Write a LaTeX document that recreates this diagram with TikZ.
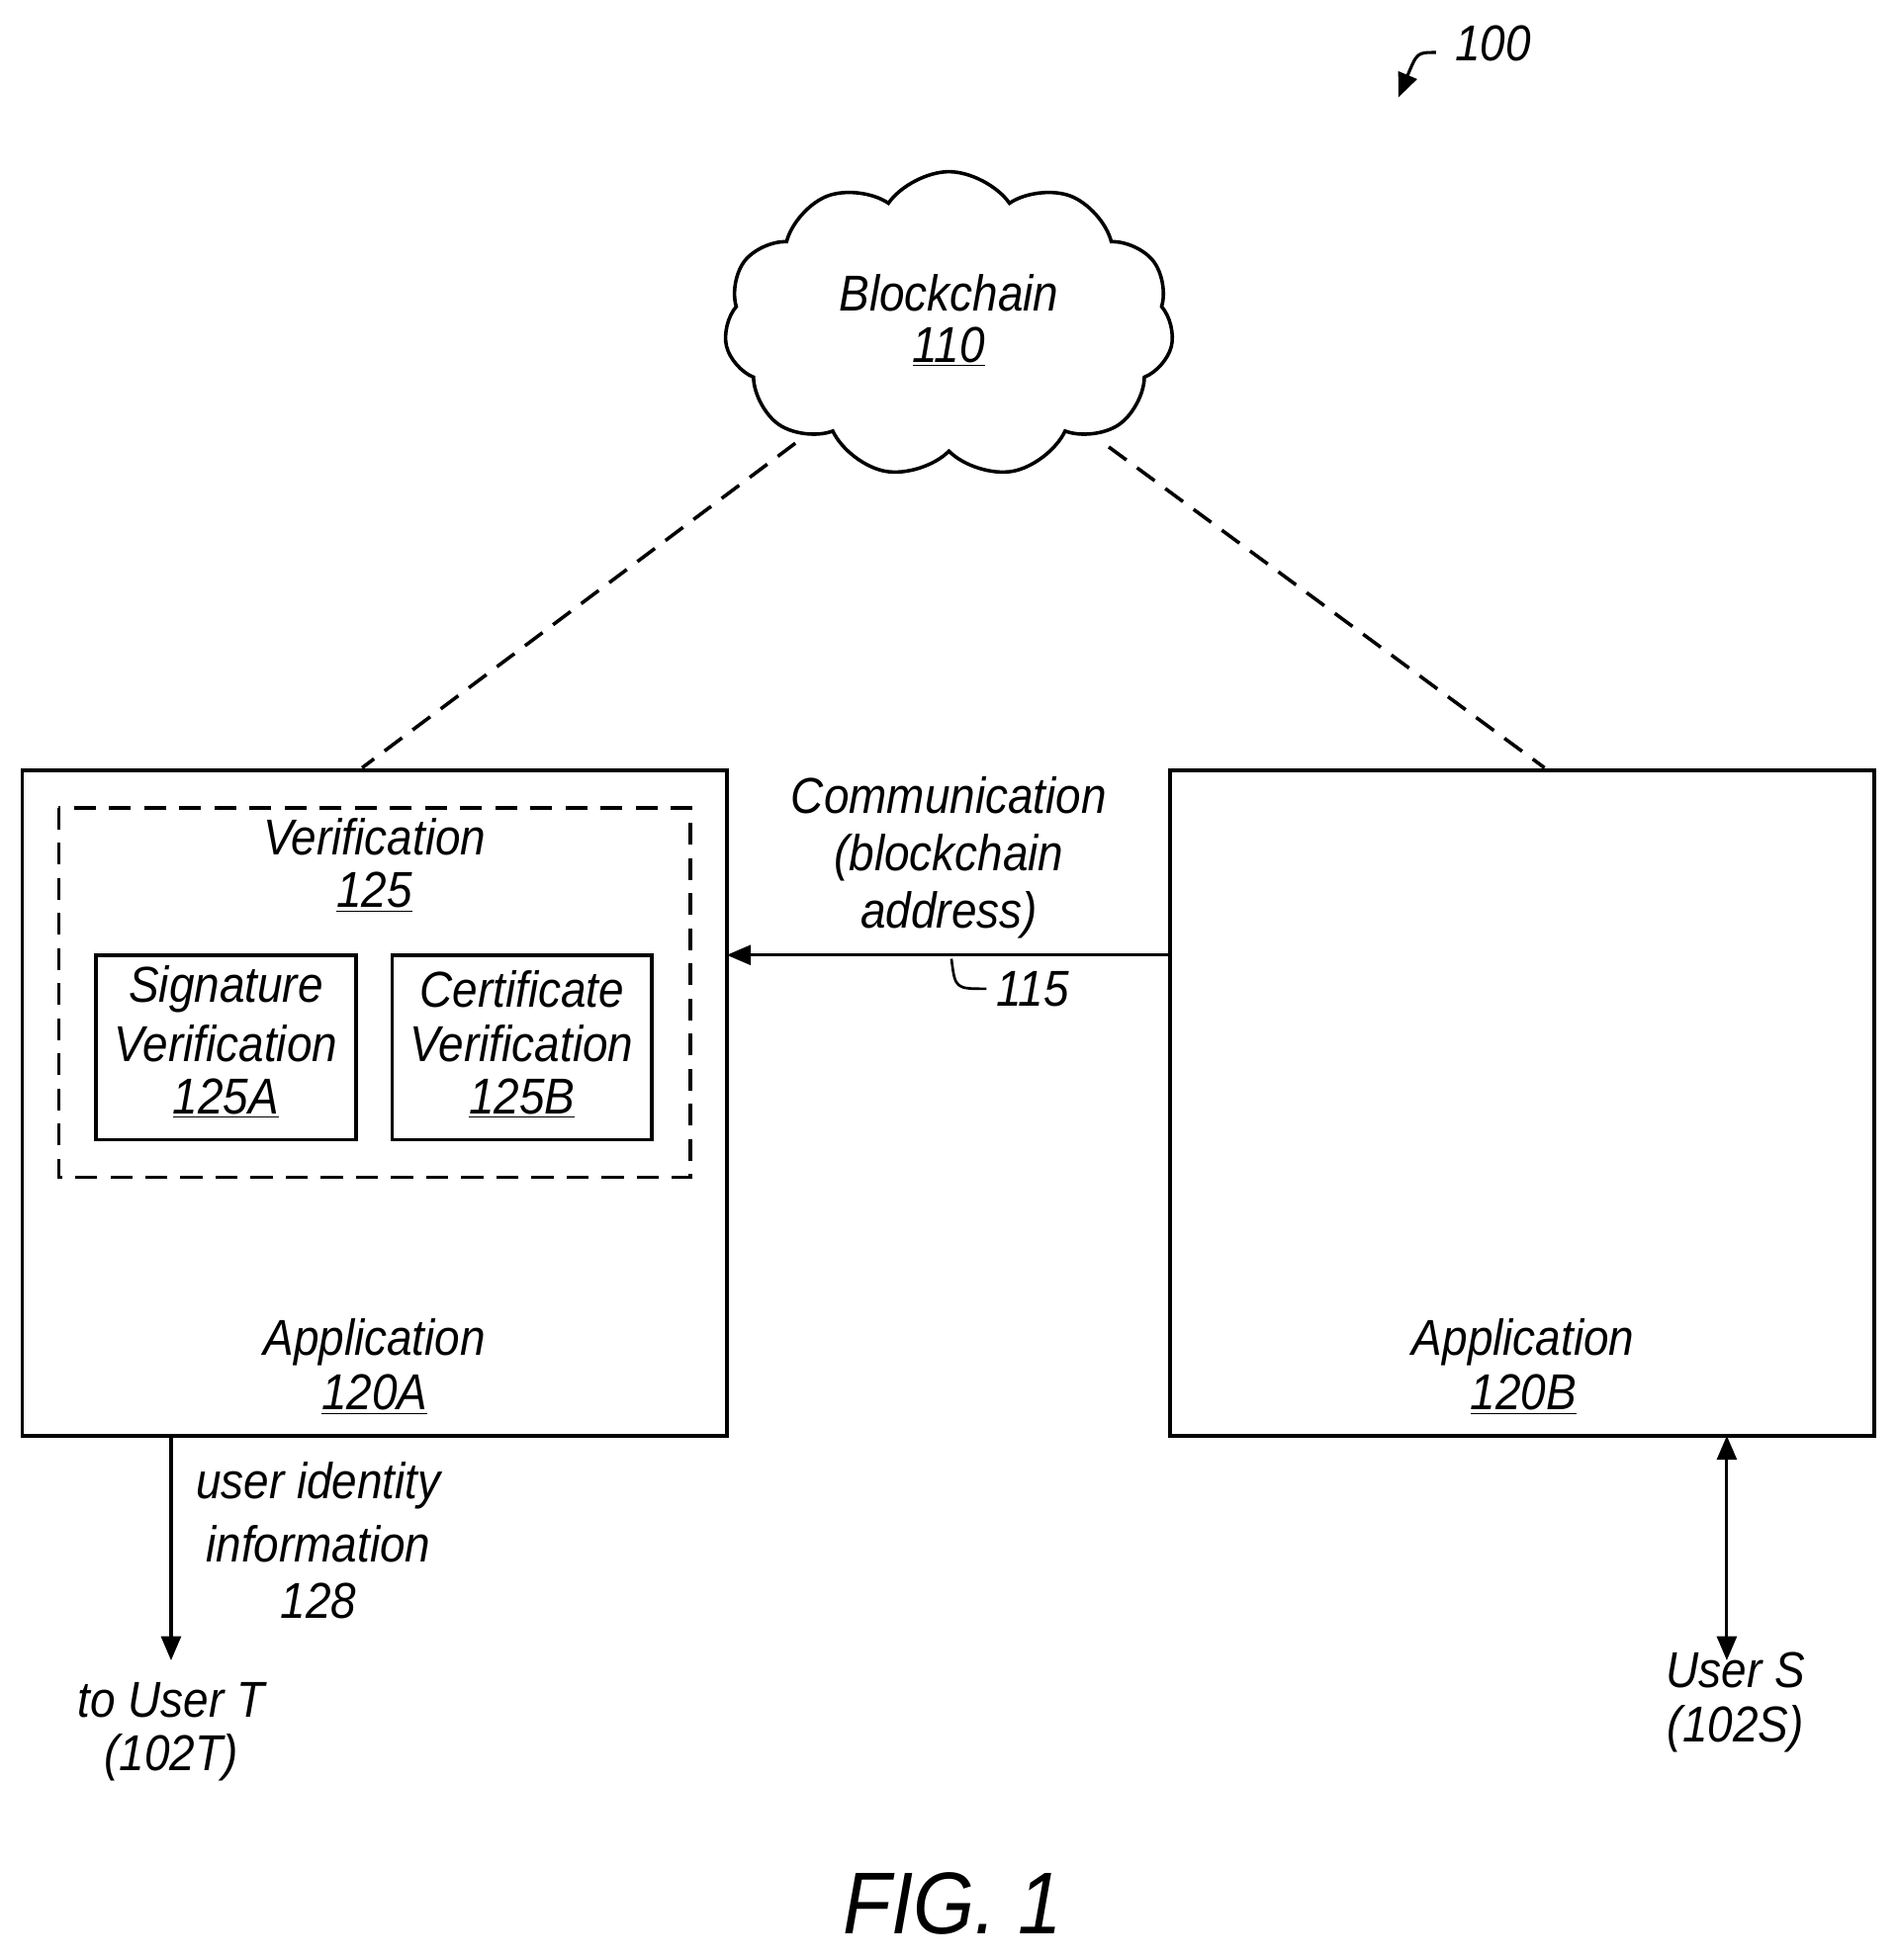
\documentclass[tikz,border=0pt]{standalone}
\usepackage{fontspec}
\setmainfont[FakeStretch=0.9]{Liberation Sans}
\usetikzlibrary{shapes.symbols,arrows.meta}
\begin{document}
\begin{tikzpicture}[x=0.02cm,y=-0.02cm,
  lbl/.style={font=\fontsize{23}{27}\selectfont\itshape,align=center,inner sep=0pt},
  box/.style={draw,line width=1.6pt},
  dsh/.style={line width=1.6pt,dash pattern=on 10pt off 6pt},
  arr/.style={line width=1.4pt,-{Triangle[length=11pt,width=9pt]}}]
\useasboundingbox (0,0) rectangle (1520,1570);
\node[lbl,anchor=west] (n100) at (1165,35) {100};
\coordinate (h1) at (1150,42);
\draw[arr] (h1) .. controls (1135,42) .. (1120,78);
\node[draw,cloud,line width=1.6pt,cloud puffs=11,cloud puff arc=110,minimum width=7.2cm,minimum height=4.9cm] (bc) at (760,260) {};
\node[lbl] at (760,235) {Blockchain};
\node[lbl] at (760,278) {\underline{110}};
\draw[box] (18,617) rectangle (582,1150);
\draw[box] (937,617) rectangle (1501,1150);
\coordinate (A) at (582,765);
\coordinate (B) at (937,765);
\draw[dsh] (637,355) -- (290,615);
\draw[dsh] (888,358) -- (1237,615);
\draw[dsh] (47,647) rectangle (553,943);
\node[lbl] at (300,670) {Verification};
\node[lbl] at (300,715) {\underline{125}};
\draw[box] (77,765) rectangle (285,913);
\draw[box] (314,765) rectangle (522,913);
\node[lbl] at (181,792) {Signature};
\node[lbl] at (181,836) {Verification};
\node[lbl] at (181,880) {\underline{125A}};
\node[lbl] at (418,792) {Certificate};
\node[lbl] at (418,836) {Verification};
\node[lbl] at (418,880) {\underline{125B}};
\draw[arr] (B) -- (A);
\node[lbl] at (760,637) {Communication};
\node[lbl] at (760,687) {(blockchain};
\node[lbl] at (760,733) {address)};
\draw[line width=1.2pt] (762,768) .. controls (765,792) .. (790,792);
\node[lbl,anchor=west] at (798,792) {115};
\node[lbl] at (300,1075) {Application};
\node[lbl] at (300,1117) {\underline{120A}};
\node[lbl] at (1220,1075) {Application};
\node[lbl] at (1220,1117) {\underline{120B}};
\draw[arr] (137,1150) -- (137,1330);
\node[lbl] at (255,1190) {user identity};
\node[lbl] at (255,1237) {information};
\node[lbl] at (255,1282) {128};
\node[lbl] at (137,1362) {to User T};
\node[lbl] at (137,1408) {(102T)};
\draw[line width=1.4pt,{Triangle[length=11pt,width=9pt]}-{Triangle[length=11pt,width=9pt]}] (1383,1150) -- (1383,1330);
\node[lbl] at (1390,1338) {User S};
\node[lbl] at (1390,1385) {(102S)};
\node[lbl,font=\fontsize{40}{46}\selectfont\itshape] at (763,1525) {FIG. 1};
\end{tikzpicture}
\end{document}
